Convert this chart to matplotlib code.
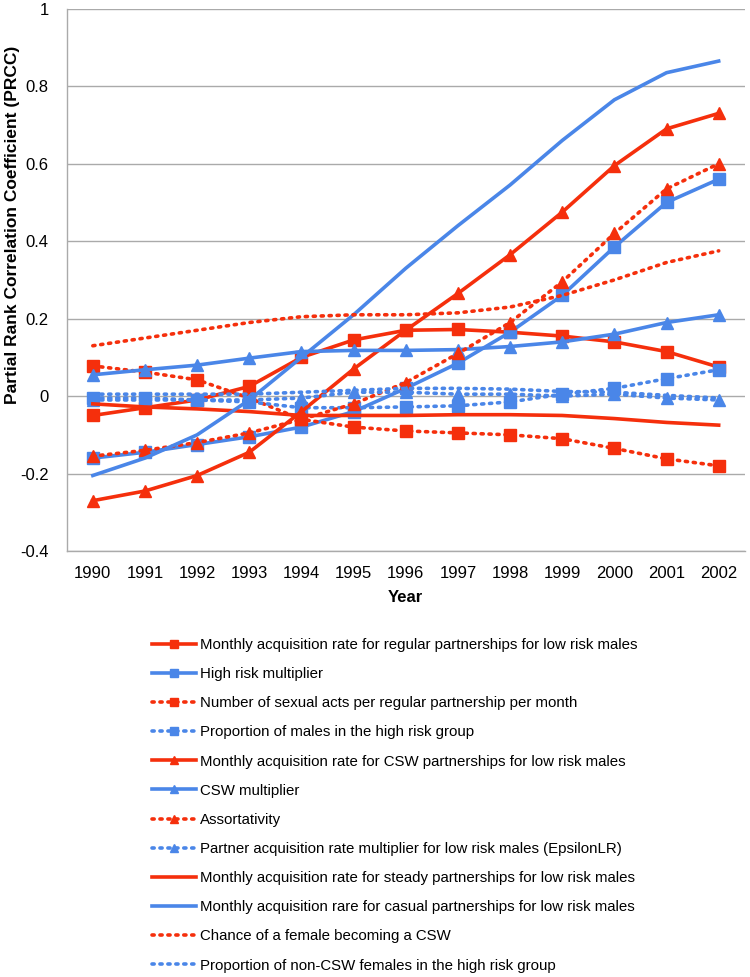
import matplotlib
matplotlib.use("Agg")
import matplotlib.pyplot as plt

plt.rcParams['font.family'] = ['Liberation Sans', 'DejaVu Sans']

years = list(range(1990, 2003))

labels = [
    "Monthly acquisition rate for regular partnerships for low risk males",
    "High risk multiplier",
    "Number of sexual acts per regular partnership per month",
    "Proportion of males in the high risk group",
    "Monthly acquisition rate for CSW partnerships for low risk males",
    "CSW multiplier",
    "Assortativity",
    "Partner acquisition rate multiplier for low risk males (EpsilonLR)",
    "Monthly acquisition rate for steady partnerships for low risk males",
    "Monthly acquisition rare for casual partnerships for low risk males",
    "Chance of a female becoming a CSW",
    "Proportion of non-CSW females in the high risk group",
]

regular_lr = [-0.05, -0.03, -0.01, 0.025, 0.10, 0.145, 0.17, 0.172, 0.165, 0.155, 0.14, 0.115, 0.075]
high_risk_mult = [-0.16, -0.145, -0.125, -0.105, -0.08, -0.04, 0.02, 0.085, 0.165, 0.26, 0.385, 0.50, 0.56]
sex_acts = [0.078, 0.062, 0.042, -0.005, -0.06, -0.08, -0.09, -0.095, -0.10, -0.11, -0.135, -0.162, -0.18]
prop_males_hr = [-0.005, -0.005, -0.01, -0.015, -0.03, -0.03, -0.028, -0.025, -0.015, 0.005, 0.02, 0.045, 0.068]
csw_lr = [-0.27, -0.245, -0.205, -0.145, -0.04, 0.07, 0.17, 0.265, 0.365, 0.475, 0.595, 0.69, 0.73]
csw_mult = [0.055, 0.068, 0.08, 0.098, 0.115, 0.118, 0.118, 0.12, 0.128, 0.14, 0.16, 0.19, 0.21]
assortativity = [-0.155, -0.14, -0.12, -0.095, -0.06, -0.02, 0.035, 0.11, 0.19, 0.295, 0.42, 0.535, 0.60]
epsilon_lr = [-0.01, -0.01, -0.01, -0.01, -0.005, 0.01, 0.01, 0.005, 0.005, 0.0, 0.005, -0.005, -0.01]
steady_lr = [-0.02, -0.028, -0.033, -0.04, -0.05, -0.05, -0.05, -0.048, -0.048, -0.05, -0.058, -0.068, -0.075]
casual_lr = [-0.205, -0.16, -0.10, -0.01, 0.10, 0.21, 0.33, 0.44, 0.545, 0.66, 0.765, 0.835, 0.865]
female_csw = [0.13, 0.15, 0.17, 0.19, 0.205, 0.21, 0.21, 0.215, 0.23, 0.26, 0.30, 0.345, 0.375]
nonCSW_hr = [0.005, 0.005, 0.005, 0.005, 0.01, 0.015, 0.02, 0.02, 0.018, 0.012, 0.01, 0.002, -0.005]

series = [regular_lr, high_risk_mult, sex_acts, prop_males_hr, csw_lr, csw_mult,
          assortativity, epsilon_lr, steady_lr, casual_lr, female_csw, nonCSW_hr]

RED = '#F52F0C'
BLUE = '#4A86E8'
colors = [RED, BLUE] * 6
styles = ['-', '-', ':', ':'] * 2 + ['-', '-', ':', ':']
markers = ['s'] * 4 + ['^'] * 4 + [None] * 4

fig = plt.figure(figsize=(7.5, 9.77), dpi=100)
ax = fig.add_axes([0.089, 0.436, 0.904, 0.555])

for y, lab, c, ls, m in zip(series, labels, colors, styles, markers):
    if ls == ':':
        ax.plot(years, y, color=c, linestyle=(0, (0.6, 1.6)), linewidth=2.6,
                dash_capstyle='round', marker=m, markersize=8, label=lab)
    else:
        ax.plot(years, y, color=c, linestyle='-', linewidth=2.6,
                marker=m, markersize=8, label=lab)

ax.set_xlim(1989.5, 2002.5)
ax.set_ylim(-0.4, 1.0)
ax.set_xticks(years)
ax.set_xticklabels([str(y) for y in years])
ax.set_yticks([-0.4, -0.2, 0, 0.2, 0.4, 0.6, 0.8, 1])
ax.set_yticklabels(['-0.4', '-0.2', '0', '0.2', '0.4', '0.6', '0.8', '1'])
ax.tick_params(axis='both', length=0, labelsize=12)
ax.tick_params(axis='y', pad=13)
ax.tick_params(axis='x', pad=11)
ax.grid(axis='y', color='#AAAAAA', linewidth=1)
ax.set_axisbelow(True)
for s in ['top', 'right']:
    ax.spines[s].set_visible(False)
for s in ['left', 'bottom']:
    ax.spines[s].set_color('#AAAAAA')
    ax.spines[s].set_linewidth(1)

ax.set_xlabel('Year', fontsize=12, fontweight='bold', labelpad=6)
fig.text(13 / 750, 1 - 225 / 977, 'Partial Rank Correlation Coefficient (PRCC)',
         rotation=90, fontsize=12.5, fontweight='bold', ha='center', va='center')

handles, labs = ax.get_legend_handles_labels()
fig.legend(handles, labs, loc='upper left', bbox_to_anchor=(0.203, 0.347),
           frameon=False, fontsize=10.8, handlelength=2.9, handletextpad=0.26,
           labelspacing=1.01, borderpad=0, borderaxespad=0, markerscale=0.75)

fig.savefig('out.png', dpi=100)
